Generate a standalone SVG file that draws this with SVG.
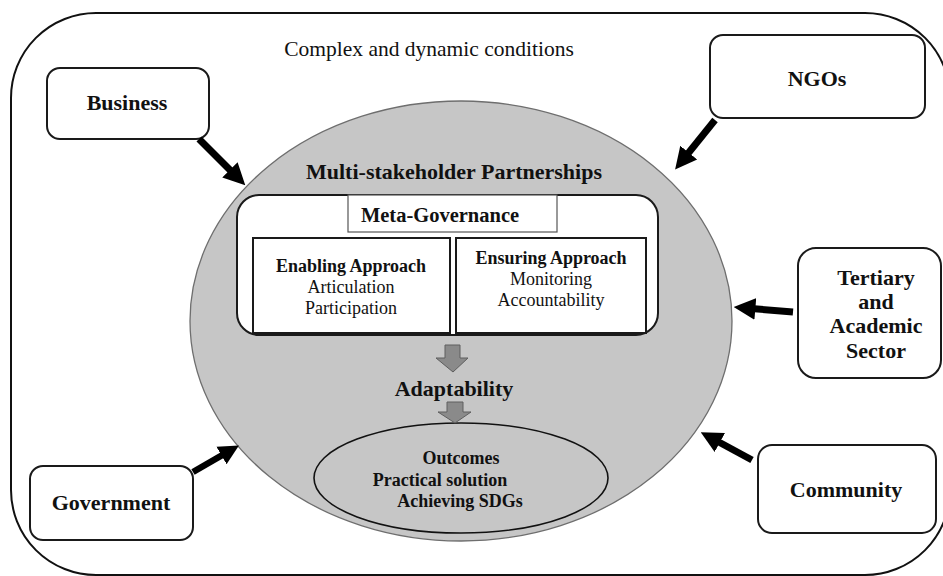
<svg xmlns="http://www.w3.org/2000/svg" width="943" height="576" viewBox="0 0 943 576">
  <defs>
    <style>
      .box { fill: #ffffff; stroke: #1a1a1a; stroke-width: 2; }
      .lbl { font-family: "Liberation Serif", "Times New Roman", serif; font-weight: bold; font-size: 22px; fill: #111; text-anchor: middle; }
      .sub { font-family: "Liberation Serif", "Times New Roman", serif; font-size: 18px; fill: #111; text-anchor: middle; }
      .subb { font-family: "Liberation Serif", "Times New Roman", serif; font-size: 18px; font-weight: bold; fill: #111; text-anchor: middle; }
      .feed { stroke: #000; stroke-width: 7; fill: none; marker-end: url(#head); }
      .flow { fill: #8a8a8a; stroke: #5e5e5e; stroke-width: 1; }
    </style>
    <marker id="head" viewBox="0 0 10 10" refX="2" refY="5" markerWidth="3.1" markerHeight="3.4" orient="auto" markerUnits="strokeWidth">
      <path d="M0,0 L10,5 L0,10 z" fill="#000"/>
    </marker>
  </defs>

  <!-- surrounding environment frame -->
  <g id="environment">
    <rect x="11" y="13" width="939" height="562" rx="85" ry="85" fill="#fff" stroke="#111" stroke-width="2"/>
    <text x="429" y="56" font-family="Liberation Serif, Times New Roman, serif" font-size="21.5" fill="#111" text-anchor="middle">Complex and dynamic conditions</text>
  </g>

  <!-- central partnership ellipse -->
  <g id="partnerships">
    <ellipse cx="461" cy="321" rx="271" ry="220" fill="#c6c6c6" stroke="#6e6e6e" stroke-width="1.3"/>
    <text x="454" y="179" class="lbl">Multi-stakeholder Partnerships</text>
  </g>

  <g id="meta-governance">
    <rect x="237" y="195" width="421" height="140" rx="22" ry="22" class="box"/>
    <rect x="348" y="195" width="209" height="37" fill="#fff" stroke="#555" stroke-width="1.2"/>
    <text x="440" y="222" class="subb" style="font-size:20.5px">Meta-Governance</text>
  </g>

  <g id="enabling">
    <rect x="253" y="238" width="197" height="95" class="box"/>
    <text x="351" y="272" class="subb">Enabling Approach</text>
    <text x="351" y="293" class="sub">Articulation</text>
    <text x="351" y="314" class="sub">Participation</text>
  </g>

  <g id="ensuring">
    <rect x="456" y="238" width="190" height="95" class="box"/>
    <text x="551" y="264" class="subb">Ensuring Approach</text>
    <text x="551" y="285" class="sub">Monitoring</text>
    <text x="551" y="306" class="sub">Accountability</text>
  </g>

  <g id="adaptability">
    <text x="454" y="396" class="lbl">Adaptability</text>
  </g>

  <g id="outcomes">
    <ellipse cx="461" cy="478" rx="147" ry="55" fill="#c6c6c6" stroke="#111" stroke-width="1.6"/>
    <text x="461" y="464" class="subb">Outcomes</text>
    <text x="440" y="486" class="subb">Practical solution</text>
    <text x="460" y="507" class="subb">Achieving SDGs</text>
  </g>

  <!-- stakeholder boxes -->
  <g id="business">
    <rect x="47" y="68" width="162" height="71" rx="13" class="box"/>
    <text x="127" y="110" class="lbl">Business</text>
  </g>
  <g id="ngos">
    <rect x="710" y="35" width="215" height="83" rx="13" class="box"/>
    <text x="817" y="86" class="lbl">NGOs</text>
  </g>
  <g id="tertiary">
    <rect x="798" y="248" width="143" height="130" rx="18" class="box"/>
    <text x="876" y="285" class="lbl">Tertiary</text>
    <text x="876" y="309" class="lbl">and</text>
    <text x="876" y="333" class="lbl">Academic</text>
    <text x="876" y="358" class="lbl">Sector</text>
  </g>
  <g id="community">
    <rect x="758" y="445" width="178" height="88" rx="14" class="box"/>
    <text x="846" y="497" class="lbl">Community</text>
  </g>
  <g id="government">
    <rect x="30" y="466" width="163" height="74" rx="13" class="box"/>
    <text x="111" y="510" class="lbl">Government</text>
  </g>

  <!-- connectors -->
  <g id="connectors">
    <line x1="199" y1="139" x2="233" y2="173" class="feed"/>
    <line x1="715" y1="120" x2="686" y2="156" class="feed"/>
    <line x1="793" y1="312" x2="751" y2="308.5" class="feed"/>
    <line x1="752" y1="460" x2="716" y2="440.5" class="feed"/>
    <line x1="193" y1="472" x2="225" y2="453.5" class="feed" style="stroke-width:6.5"/>
    <path class="flow" d="M445,345 H460 V358 H468 L453,372 L436,358 H445 Z"/>
    <path class="flow" d="M447,402 H463 V412 H471 L455,423 L438,412 H447 Z"/>
  </g>
</svg>
